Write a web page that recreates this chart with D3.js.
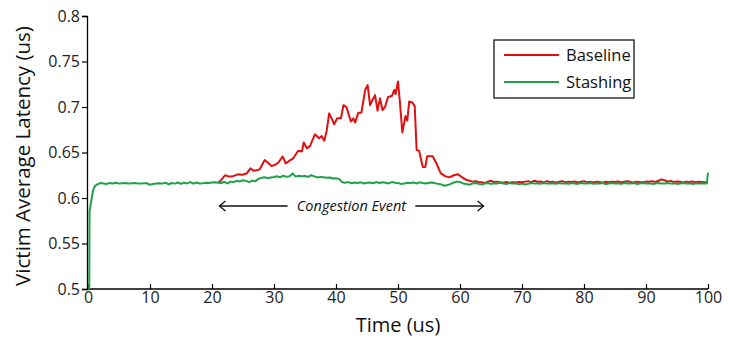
<!DOCTYPE html>
<html><head><meta charset="utf-8">
<script src="https://cdn.jsdelivr.net/npm/d3@7"></script>
<style>html,body{margin:0;padding:0;background:#fff;}svg{display:block;font-family:"Open Sans",sans-serif;}</style>
</head><body><svg id="c" width="739" height="349"></svg>
<script>
const xTicks = [0,10,20,30,40,50,60,70,80,90,100];
const yTicks = [0.5,0.55,0.6,0.65,0.7,0.75,0.8];
const yTickLabels = ["0.5","0.55","0.6","0.65","0.7","0.75","0.8"];
const seriesNames = ["Baseline","Stashing"];

const stashingTime = [0.2,0.25,0.5,0.8,1.1,1.5,
2,2.5,3,3.5,4,4.5,5,5.5,6,6.5,7,7.5,8,8.5,9,9.5,10,10.5,11,11.5,12,12.5,13,13.5,14,14.5,15,15.5,16,16.5,17,17.5,18,18.5,19,19.5,20,20.5,21,
21.5,22,22.5,23,23.5,24,24.5,25,25.5,26,26.5,27,27.5,28,28.5,29,29.5,30,30.5,31,31.5,32,32.5,33,33.5,34,34.5,35,35.5,36,36.5,37,37.5,38,38.5,39,39.5,40,
40.5,41,41.5,42,42.5,43,43.5,44,44.5,45,45.5,46,46.5,47,47.5,48,48.5,49,49.5,50,50.5,51,51.5,52,52.5,53,53.5,54,54.5,55,55.5,56,56.5,57,57.5,58,58.5,59,59.5,60,
60.5,61,61.5,62,62.5,63,63.5,64,64.5,65,65.5,66,66.5,67,67.5,68,68.5,69,69.5,70,70.5,71,71.5,72,72.5,73,73.5,74,74.5,75,75.5,76,76.5,77,77.5,78,78.5,79,79.5,80,
80.5,81,81.5,82,82.5,83,83.5,84,84.5,85,85.5,86,86.5,87,87.5,88,88.5,89,89.5,90,90.5,91,91.5,92,92.5,93,93.5,94,94.5,95,95.5,96,96.5,97,97.5,98,98.5,99,99.5,99.8,100];
const stashingLatency = [0.5,0.585,0.596,0.608,0.613,0.615,
0.6165,0.616,0.6155,0.6165,0.616,0.6168,0.6158,0.6162,0.6165,0.616,
0.6162,0.6165,0.616,0.6158,0.6163,0.6162,0.6145,0.6155,0.616,0.6162,
0.6158,0.6168,0.615,0.6165,0.6158,0.617,0.6155,0.6168,0.616,0.6175,
0.6158,0.617,0.616,0.6162,0.6168,0.6165,0.617,0.6172,0.6168,
0.6165,0.6178,0.616,0.618,0.6175,0.619,0.6182,0.6195,
0.6188,0.6175,0.6192,0.6185,0.621,0.6222,0.6228,0.6218,0.6225,0.623,
0.6238,0.6228,0.6245,0.6232,0.624,0.627,0.6235,0.6245,0.6238,0.6242,
0.6232,0.625,0.6238,0.6225,0.6232,0.6228,0.6222,0.6225,0.6215,0.6218,
0.621,0.6172,0.6168,0.6175,0.6162,0.617,0.6165,0.6172,0.616,0.6168,
0.617,0.6162,0.6175,0.6165,0.6172,0.6168,0.616,0.6175,0.6168,0.6165,
0.6155,0.616,0.6168,0.6165,0.617,0.616,0.6172,0.6165,0.616,0.6168,
0.617,0.6162,0.6155,0.6148,0.6135,0.6142,0.6155,0.617,0.618,0.6175,
0.616,0.6155,0.6145,0.6158,0.6165,0.6155,0.6148,0.616,0.6165,0.6155,
0.6162,0.6158,0.6168,0.616,0.6155,0.6165,0.6158,0.6162,0.615,0.6158,
0.6148,0.6155,0.6165,0.6158,0.6162,0.6155,0.6165,0.6158,0.616,0.6162,
0.6155,0.6165,0.6158,0.6162,0.6155,0.6165,0.616,0.6155,0.6165,0.6158,
0.616,0.6165,0.6155,0.6162,0.6158,0.6165,0.6152,0.616,0.6165,0.6158,
0.6162,0.6155,0.6165,0.616,0.6158,0.6165,0.6155,0.616,0.6165,0.6158,
0.6162,0.6155,0.616,0.6165,0.6158,0.616,0.6165,0.6158,0.6162,0.6155,
0.616,0.6165,0.6158,0.6162,0.6155,0.616,0.6158,0.6162,0.616,0.616,0.628];

const baselineTime = [21,21.5,22.1,22.8,23.4,24.2,24.9,25.6,26.2,26.7,27.2,27.7,28.5,29.1,29.6,30.2,30.7,31.4,31.9,32.5,33.1,33.9,34.5,34.8,35.3,35.8,36.6,37.3,37.7,38.1,38.5,38.9,39.3,39.7,40.2,40.8,41.2,41.7,42.4,42.8,43.1,43.6,44.1,44.7,45.1,45.5,45.9,46.3,46.7,47.1,47.5,47.9,48.4,49.0,49.4,49.6,50.0,50.3,50.7,51.2,51.5,51.8,52.3,52.7,53.0,53.4,54.0,54.4,54.7,55.6,56.2,56.9,57.6,58.3,59.0,59.7,
60.5,61,61.5,62,62.5,63,63.5,64,64.5,65,65.5,66,66.5,67,67.5,68,68.5,69,69.5,70,
70.5,71,71.5,72,72.5,73,73.5,74,74.5,75,75.5,76,76.5,77,77.5,78,78.5,79,79.5,80,
80.5,81,81.5,82,82.5,83,83.5,84,84.5,85,85.5,86,86.5,87,87.5,88,88.5,89,89.5,90,
90.5,91,91.5,92,92.5,93,93.5,94,94.5,95,95.5,96,96.5,97,97.5,98,98.5,99,99.5,100];
const baselineLatency = [0.6168,0.6198,0.625,0.6235,0.624,0.626,0.6255,0.627,0.6326,0.630,0.6305,0.6315,0.6418,0.6385,0.635,0.6365,0.639,0.6455,0.638,0.641,0.6436,0.652,0.651,0.661,0.6546,0.657,0.670,0.6656,0.668,0.663,0.674,0.693,0.6875,0.681,0.6876,0.6876,0.702,0.6997,0.684,0.6876,0.683,0.6938,0.6938,0.7187,0.724,0.702,0.708,0.713,0.696,0.7095,0.6967,0.700,0.711,0.712,0.7187,0.714,0.728,0.706,0.672,0.690,0.685,0.706,0.705,0.701,0.6527,0.652,0.634,0.634,0.646,0.646,0.638,0.627,0.624,0.6227,0.625,0.626,
0.622,0.620,0.619,0.618,0.6185,0.6175,0.6172,0.6165,0.6178,0.619,0.6175,0.618,0.6172,0.6168,0.6175,0.6168,0.6172,0.617,0.6175,0.6172,
0.618,0.6185,0.6172,0.619,0.6178,0.6182,0.6172,0.6185,0.6175,0.618,
0.6168,0.6178,0.6185,0.6172,0.618,0.6175,0.6182,0.617,0.6178,0.6185,
0.6172,0.6178,0.617,0.618,0.6175,0.6168,0.6178,0.6172,0.618,0.6175,
0.6182,0.6172,0.6178,0.6185,0.6175,0.617,0.618,0.6175,0.6172,0.618,
0.6178,0.6185,0.6175,0.619,0.6205,0.6195,0.618,0.6188,0.6175,0.6182,
0.6178,0.617,0.618,0.6175,0.6182,0.6172,0.6178,0.6175,0.6172,0.6168];

const colors = ["#e01010","#1fa04a"];

const svg = d3.select("#c");
const x = d3.scaleLinear().domain([0,100]).range([88,708]);
const y = d3.scaleLinear().domain([0.5,0.8]).range([289,16]);

const yAxis = d3.axisLeft(y).tickValues(yTicks).tickFormat((d,i)=>yTickLabels[i]).tickSize(5).tickPadding(2);
const gy = svg.append("g").attr("transform","translate(87,0)").call(yAxis);
gy.select(".domain").attr("stroke","#000").attr("stroke-width",1.3);
gy.selectAll(".tick line").attr("stroke","#000").attr("stroke-width",1.2);
gy.selectAll(".tick text").attr("font-size",16).attr("fill","#222").attr("font-family","Open Sans");

const xAxis = d3.axisBottom(x).tickValues(xTicks).tickSize(0).tickPadding(4);
const gx = svg.append("g").attr("transform","translate(0,289)").call(xAxis);
gx.select(".domain").attr("stroke","#000").attr("stroke-width",1.3).attr("d","M87,0H708");
gx.selectAll(".tick line").attr("y2",-5).attr("stroke","#000").attr("stroke-width",1.2);
gx.selectAll(".tick text").attr("font-size",16).attr("fill","#222").attr("font-family","Open Sans").attr("dy","0.6em");

svg.append("text").attr("x",398).attr("y",332).attr("text-anchor","middle")
  .attr("font-size",20).attr("fill","#111").text("Time (us)");
svg.append("text").attr("transform","translate(30,156) rotate(-90)").attr("text-anchor","middle")
  .attr("font-size",20.5).attr("fill","#111").text("Victim Average Latency (us)");

const line = d3.line().x(d=>x(d[0])).y(d=>y(d[1]));
const red = baselineTime.map((t,i)=>[t,baselineLatency[i]]);
const green = stashingTime.map((t,i)=>[t,stashingLatency[i]]);
svg.append("path").datum(red).attr("d",line).attr("fill","none").attr("stroke",colors[0]).attr("stroke-width",2).attr("stroke-linejoin","round");
svg.append("path").datum(green).attr("d",line).attr("fill","none").attr("stroke",colors[1]).attr("stroke-width",2).attr("stroke-linejoin","round");

const ay = 206;
svg.append("line").attr("x1",x(21.2)).attr("x2",x(32.2)).attr("y1",ay).attr("y2",ay).attr("stroke","#111").attr("stroke-width",1.3);
svg.append("line").attr("x1",x(52.8)).attr("x2",x(63.8)).attr("y1",ay).attr("y2",ay).attr("stroke","#111").attr("stroke-width",1.3);
svg.append("path").attr("d",`M${x(21.2)+6},${ay-5}L${x(21.2)},${ay}L${x(21.2)+6},${ay+5}`).attr("fill","none").attr("stroke","#111").attr("stroke-width",1.3);
svg.append("path").attr("d",`M${x(63.8)-6},${ay-5}L${x(63.8)},${ay}L${x(63.8)-6},${ay+5}`).attr("fill","none").attr("stroke","#111").attr("stroke-width",1.3);
svg.append("text").attr("x",x(42.5)).attr("y",ay+5).attr("text-anchor","middle").attr("font-style","italic")
  .attr("font-size",14.5).attr("fill","#111").text("Congestion Event");

const lg = svg.append("g");
lg.append("rect").attr("x",494).attr("y",40).attr("width",140).attr("height",58).attr("fill","#fff").attr("stroke","#000").attr("stroke-width",1.2);
seriesNames.forEach((n,i)=>{
  const ly = 55 + i*27;
  lg.append("line").attr("x1",504).attr("x2",559).attr("y1",ly).attr("y2",ly).attr("stroke",colors[i]).attr("stroke-width",2);
  lg.append("text").attr("x",566).attr("y",ly+6).attr("font-size",16.5).attr("fill","#111").text(n);
});
</script></body></html>
